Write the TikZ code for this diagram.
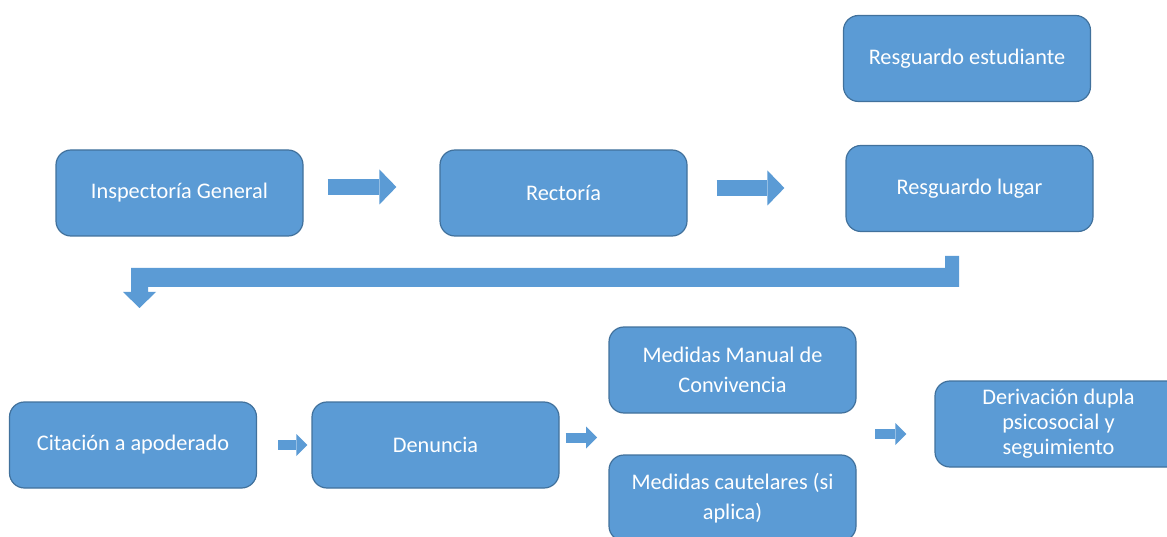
\documentclass[tikz,border=0pt]{standalone}
\usepackage{fontspec}
\setmainfont{Carlito}
\usetikzlibrary{arrows.meta}
\definecolor{cajaazul}{HTML}{5B9BD5}
\definecolor{bordeazul}{HTML}{41719C}
\begin{document}
\begin{tikzpicture}[x=1pt,y=-1pt,
  caja/.style={draw=bordeazul,line width=1.2pt,fill=cajaazul,rounded corners=15pt,
    minimum width=247pt,minimum height=86pt,inner sep=2pt,text=white,align=center,
    font=\fontsize{22.3}{30}\selectfont},
  flecha/.style={draw=cajaazul,line width=16pt,-{Triangle[width=35pt,length=17pt,line width=0pt]}},
  flechita/.style={draw=cajaazul,line width=10pt,-{Triangle[width=22pt,length=11pt,line width=0pt]}}]
\clip (0,0) rectangle (1167,537);

% Fila de arriba
\node[caja] (estud) at (967,58.5) {Resguardo estudiante};
\node[caja] (insp) at (179.5,193) {Inspectoría General};
\node[caja] (rect) at (563.5,193) {Rectoría};
\node[caja] (lugar) at (969.5,188.5) {Resguardo lugar};

\draw[flecha,shorten <=24pt,shorten >=43pt] ([yshift=6pt]insp.east) -- ([yshift=6pt]rect.west);
\draw[flecha,shorten <=29pt,shorten >=61pt] ([yshift=5pt]rect.east) -- ([yshift=5pt]rect.east -| lugar.west);

% Flecha doblada hacia la fila de abajo
\fill[cajaazul] (959,256) -- (959,287) -- (148,287) -- (148,292) -- (156,292) -- (139.5,308)
  -- (123,292) -- (131,292) -- (131,268) -- (945,268) -- (945,256) -- cycle;

% Fila de abajo
\node[caja] (cit) at (133,445) {Citación a apoderado};
\node[caja] (den) at (435.5,445) {Denuncia};
\node[caja] (manual) at (732.5,370) {Medidas Manual de\\Convivencia};
\node[caja] (caut) at (732.5,498) {Medidas cautelares (si\\aplica)};
\node[caja,font=\fontsize{22.3}{25}\selectfont] (der) at (1058.5,424) {Derivación dupla\\psicosocial y\\seguimiento};

\coordinate (medidas) at (609,437.5);
\coordinate (medout) at (857,434);

\draw[flechita,shorten <=21pt,shorten >=4pt] (cit.east) -- (den.west);
\draw[flechita,shorten <=6pt,shorten >=12pt] ([yshift=7.5pt]den.east) -- (medidas);
\draw[flechita,shorten <=18pt,shorten >=28pt] (medout) -- (medout -| der.west);

\end{tikzpicture}
\end{document}
